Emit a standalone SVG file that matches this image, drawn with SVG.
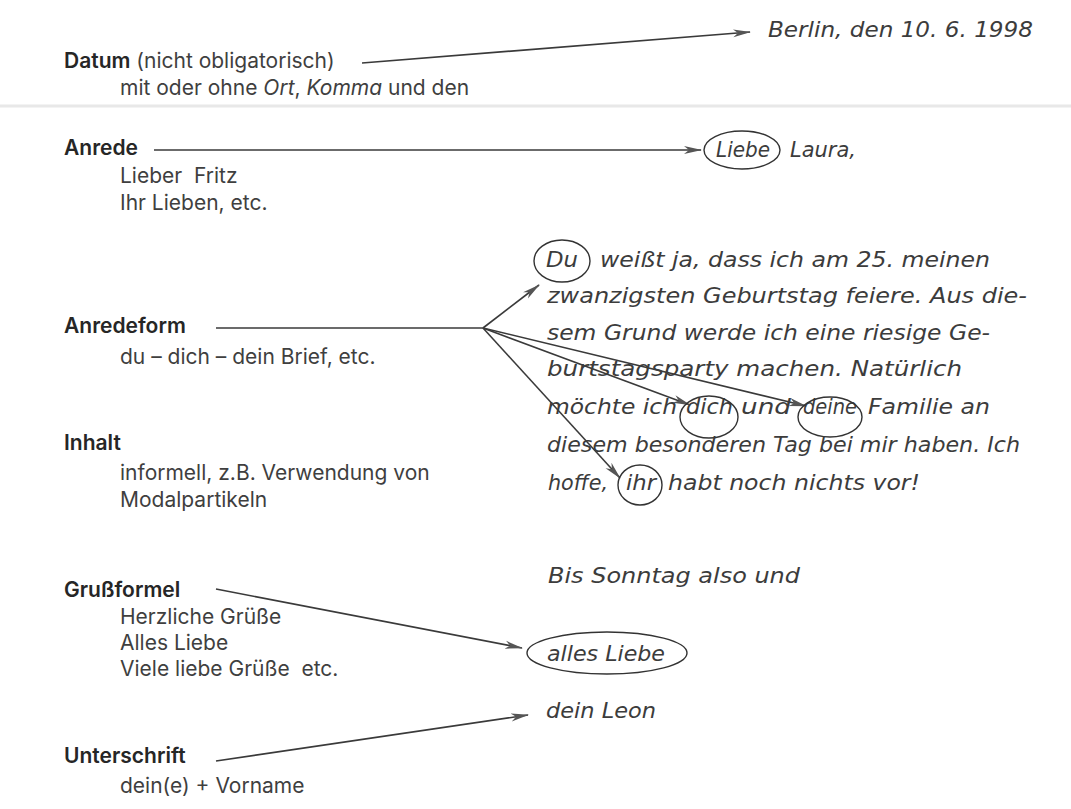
<svg xmlns="http://www.w3.org/2000/svg" width="1071" height="809" viewBox="0 0 1071 809">
<style>
.lbl{font-family:Inter,"Liberation Sans",sans-serif;font-size:21px;fill:#3f3f3f}
.b{font-weight:600;fill:#262626}
.it{font-style:italic}
.hw{font-family:"DejaVu Sans","Liberation Sans",sans-serif;font-style:italic;font-size:21px;fill:#3c3c3c}
.ring{fill:none;stroke:#333;stroke-width:1.4}
.conn{fill:none;stroke:#3a3a3a;stroke-width:1.6}
</style>
<defs>
<marker id="ah" viewBox="0 0 18 10" refX="17" refY="5" markerWidth="18" markerHeight="10" markerUnits="userSpaceOnUse" orient="auto">
<path d="M0,1 L18,5 L0,9 L5,5 Z" fill="#555"/>
</marker>
</defs>
<rect width="1071" height="809" fill="#fff"/>
<line x1="0" y1="106" x2="1071" y2="106" stroke="#e8e8e8" stroke-width="3"/>

<g id="connectors">
<line class="conn" x1="362" y1="63" x2="750" y2="32" marker-end="url(#ah)"/>
<line class="conn" x1="154" y1="150" x2="701" y2="150" marker-end="url(#ah)"/>
<line class="conn" x1="216" y1="328" x2="483" y2="328"/>
<line class="conn" x1="483" y1="328" x2="539" y2="285" marker-end="url(#ah)"/>
<line class="conn" x1="483" y1="328" x2="690" y2="405" marker-end="url(#ah)"/>
<line class="conn" x1="483" y1="328" x2="806" y2="406" marker-end="url(#ah)"/>
<line class="conn" x1="483" y1="328" x2="620" y2="478" marker-end="url(#ah)"/>
<line class="conn" x1="216" y1="589" x2="522" y2="648" marker-end="url(#ah)"/>
<line class="conn" x1="216" y1="761" x2="528" y2="715" marker-end="url(#ah)"/>
</g>

<g id="datum">
<text class="lbl" x="64" y="68"><tspan class="b">Datum</tspan> (nicht obligatorisch)</text>
<text class="lbl" x="120" y="95">mit oder ohne <tspan class="it">Ort</tspan>, <tspan class="it">Komma</tspan> und den</text>
</g>
<g id="anrede">
<text class="lbl b" x="64" y="155">Anrede</text>
<text class="lbl" x="120" y="183" style="white-space:pre">Lieber  Fritz</text>
<text class="lbl" x="120" y="210">Ihr Lieben, etc.</text>
</g>
<g id="anredeform">
<text class="lbl b" x="64" y="333">Anredeform</text>
<text class="lbl" x="120" y="364">du – dich – dein Brief, etc.</text>
</g>
<g id="inhalt">
<text class="lbl b" x="64" y="450">Inhalt</text>
<text class="lbl" x="120" y="480">informell, z.B. Verwendung von</text>
<text class="lbl" x="120" y="507">Modalpartikeln</text>
</g>
<g id="grussformel">
<text class="lbl b" x="64" y="597">Grußformel</text>
<text class="lbl" x="120" y="624">Herzliche Grüße</text>
<text class="lbl" x="120" y="650">Alles Liebe</text>
<text class="lbl" x="120" y="676" style="white-space:pre">Viele liebe Grüße  etc.</text>
</g>
<g id="unterschrift">
<text class="lbl b" x="64" y="763">Unterschrift</text>
<text class="lbl" x="120" y="793">dein(e) + Vorname</text>
</g>

<g id="brief-datum">
<text class="hw" x="768" y="37" textLength="265" lengthAdjust="spacingAndGlyphs">Berlin, den 10. 6. 1998</text>
</g>
<g id="brief-anrede">
<ellipse class="ring" cx="742" cy="150" rx="38" ry="19"/>
<text class="hw" x="716" y="157" textLength="54" lengthAdjust="spacingAndGlyphs">Liebe</text>
<text class="hw" x="790" y="157" textLength="66" lengthAdjust="spacingAndGlyphs">Laura,</text>
</g>
<g id="brief-text">
<ellipse class="ring" cx="562" cy="261" rx="28" ry="21"/>
<text class="hw" x="546" y="267" textLength="32" lengthAdjust="spacingAndGlyphs">Du</text>
<text class="hw" x="600" y="267" textLength="390" lengthAdjust="spacingAndGlyphs">weißt ja, dass ich am 25. meinen</text>
<text class="hw" x="547" y="303" textLength="480" lengthAdjust="spacingAndGlyphs">zwanzigsten Geburtstag feiere. Aus die-</text>
<text class="hw" x="547" y="340" textLength="443" lengthAdjust="spacingAndGlyphs">sem Grund werde ich eine riesige Ge-</text>
<text class="hw" x="547" y="376" textLength="415" lengthAdjust="spacingAndGlyphs">burtstagsparty machen. Natürlich</text>
<text class="hw" x="547" y="414" textLength="130" lengthAdjust="spacingAndGlyphs">möchte ich</text>
<text class="hw" x="686" y="414" textLength="47" lengthAdjust="spacingAndGlyphs">dich</text>
<text class="hw" x="741" y="414" textLength="50" lengthAdjust="spacingAndGlyphs">und</text>
<text class="hw" x="803" y="414" textLength="54" lengthAdjust="spacingAndGlyphs">deine</text>
<text class="hw" x="868" y="414" textLength="122" lengthAdjust="spacingAndGlyphs">Familie an</text>
<ellipse class="ring" cx="709" cy="417" rx="29" ry="21"/>
<ellipse class="ring" cx="830" cy="417" rx="32" ry="20"/>
<text class="hw" x="547" y="452" textLength="473" lengthAdjust="spacingAndGlyphs">diesem besonderen Tag bei mir haben. Ich</text>
<text class="hw" x="548" y="490" textLength="60" lengthAdjust="spacingAndGlyphs">hoffe,</text>
<text class="hw" x="626" y="490" textLength="30" lengthAdjust="spacingAndGlyphs">ihr</text>
<text class="hw" x="668" y="490" textLength="252" lengthAdjust="spacingAndGlyphs">habt noch nichts vor!</text>
<ellipse class="ring" cx="640" cy="485" rx="22" ry="20"/>
</g>
<g id="brief-gruss">
<text class="hw" x="548" y="583" textLength="252" lengthAdjust="spacingAndGlyphs">Bis Sonntag also und</text>
<ellipse class="ring" cx="607" cy="653" rx="80" ry="21"/>
<text class="hw" x="547" y="661" textLength="118" lengthAdjust="spacingAndGlyphs">alles Liebe</text>
</g>
<g id="brief-unterschrift">
<text class="hw" x="546" y="718" textLength="110" lengthAdjust="spacingAndGlyphs">dein Leon</text>
</g>
</svg>
